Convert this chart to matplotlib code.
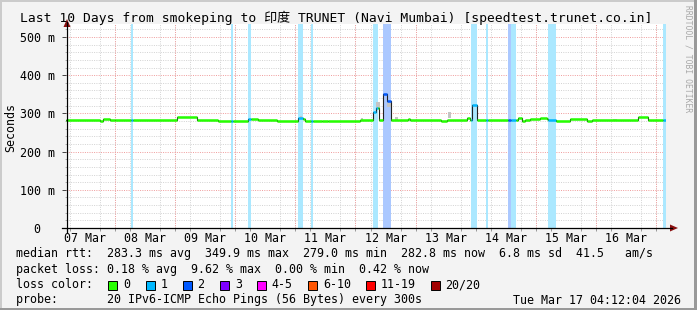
import matplotlib
matplotlib.use('Agg')
import matplotlib.pyplot as plt
import matplotlib.dates as mdates
import matplotlib.ticker as mticker
from matplotlib.patches import Rectangle, Polygon
from matplotlib.lines import Line2D
import numpy as np
import pandas as pd

plt.rcParams['font.family'] = ['DejaVu Sans Mono', 'Noto Sans CJK SC']

# ---------------- data ----------------
title = "Last 10 Days from smokeping to 印度 TRUNET (Navi Mumbai) [speedtest.trunet.co.in]"
t_start = "2026-03-07 04:12:04"
t_end = "2026-03-17 04:12:04"

# median rtt (ms); each value holds until the next time
med_times = ["2026-03-07 04:12:04", "2026-03-07 17:52", "2026-03-07 19:04", "2026-03-07 21:52",
             "2026-03-07 23:52", "2026-03-08 06:16", "2026-03-08 07:04", "2026-03-09 00:38",
             "2026-03-09 08:38", "2026-03-09 17:02", "2026-03-10 04:54", "2026-03-10 09:01",
             "2026-03-10 16:37", "2026-03-11 00:53", "2026-03-11 02:53", "2026-03-11 03:48",
             "2026-03-11 10:36", "2026-03-11 12:59", "2026-03-12 01:47", "2026-03-12 07:06",
             "2026-03-12 08:11", "2026-03-12 09:23", "2026-03-12 11:06", "2026-03-12 12:35",
             "2026-03-12 14:03", "2026-03-12 20:58", "2026-03-12 21:46", "2026-03-13 10:10",
             "2026-03-13 12:33", "2026-03-13 20:33", "2026-03-13 21:45", "2026-03-13 22:33",
             "2026-03-14 00:25", "2026-03-14 16:56", "2026-03-14 18:32", "2026-03-14 19:44",
             "2026-03-14 21:44", "2026-03-15 01:43", "2026-03-15 04:31", "2026-03-15 04:55",
             "2026-03-15 08:07", "2026-03-15 13:43", "2026-03-15 20:31", "2026-03-15 22:31",
             "2026-03-16 16:53", "2026-03-16 20:53"]
med_values = [283, 281, 285, 282,
              284, 282, 283, 289.5,
              284, 281, 285, 284,
              280, 289, 285, 280,
              279, 280, 283, 304,
              313, 283, 350, 333,
              283, 285, 283, 280,
              283, 289, 283, 323,
              283, 287, 280, 284,
              285, 289, 285, 283,
              280, 284.5, 281, 283,
              290, 283]

# packet loss periods (number of lost pings out of 20)
loss_start = ["2026-03-08 06:16", "2026-03-09 22:14", "2026-03-10 04:54", "2026-03-11 00:53",
              "2026-03-11 06:05", "2026-03-12 07:06", "2026-03-12 11:06", "2026-03-13 22:09",
              "2026-03-14 04:01", "2026-03-14 12:49", "2026-03-14 14:08", "2026-03-15 04:55",
              "2026-03-17 02:46"]
loss_end = ["2026-03-08 07:04", "2026-03-09 23:09", "2026-03-10 06:06", "2026-03-11 02:53",
            "2026-03-11 06:53", "2026-03-12 08:52", "2026-03-12 14:03", "2026-03-14 00:25",
            "2026-03-14 04:49", "2026-03-14 14:08", "2026-03-14 16:01", "2026-03-15 08:07",
            "2026-03-17 03:58"]
loss_count = [1, 1, 1, 1, 1, 1, 2, 1, 1, 2, 1, 1, 1]

# smoke (spread of ping rtts, ms)
smoke_start = ["2026-03-11 01:48", "2026-03-12 02:11", "2026-03-12 08:11", "2026-03-12 12:35",
               "2026-03-12 15:46", "2026-03-13 12:57", "2026-03-16 06:54"]
smoke_end = ["2026-03-11 02:36", "2026-03-12 02:59", "2026-03-12 09:47", "2026-03-12 14:27",
             "2026-03-12 16:58", "2026-03-13 14:09", "2026-03-16 08:30"]
smoke_lo = [285, 283, 313, 317, 283, 288, 283]
smoke_hi = [294, 289, 331, 333, 290, 304, 286]

loss_labels = ["0", "1", "2", "3", "4-5", "6-10", "11-19", "20/20"]
loss_colors = ["#26ff00", "#00b8ff", "#0059ff", "#7e00ff", "#ff00ff", "#ff5500", "#ff0000", "#a10000"]
loss_bins = [0, 1, 2, 3, 5, 10, 19, 20]

y_major_ms = [0, 100, 200, 300, 400, 500]
y_top_ms = 534

legend_rtt = "median rtt:  283.3 ms avg  349.9 ms max  279.0 ms min  282.8 ms now  6.8 ms sd  41.5   am/s"
legend_loss = "packet loss: 0.18 % avg  9.62 % max  0.00 % min  0.42 % now"
legend_probe = "probe:       20 IPv6-ICMP Echo Pings (56 Bytes) every 300s"
legend_date = "Tue Mar 17 04:12:04 2026"

# ---------------- figure ----------------
W, H = 697, 310
fig = plt.figure(figsize=(W / 100, H / 100), dpi=100, facecolor='#f3f3f3')

def fx(px):
    return px / W

def fy(py):
    return 1 - py / H

x0, x1, ytop, ybot = 65.8, 666.2, 24, 228
ax = fig.add_axes([fx(x0), fy(ybot), (x1 - x0) / W, (ybot - ytop) / H])
ax.set_facecolor('white')
for s in ax.spines.values():
    s.set_visible(False)
ax.set_axisbelow(True)

tnum = lambda s: mdates.date2num(pd.Timestamp(s))
ts, te = tnum(t_start), tnum(t_end)
ax.set_xlim(ts, te)
ax.set_ylim(0, y_top_ms / 1000)

def loss_color_for(n):
    for lb, c in zip(loss_bins, loss_colors):
        if n <= lb:
            return c
    return loss_colors[-1]

def blend(c, a=0.33):
    r, g, b = matplotlib.colors.to_rgb(c)
    return (r * a + 1 - a, g * a + 1 - a, b * a + 1 - a)

# grid
minor_y = [v / 1000 for v in range(0, y_top_ms + 1, 20) if v % 100 != 0]
ax.yaxis.set_major_locator(mticker.FixedLocator([v / 1000 for v in y_major_ms]))
ax.yaxis.set_minor_locator(mticker.FixedLocator(minor_y))
ax.yaxis.set_major_formatter(mticker.FuncFormatter(
    lambda v, p: "0  " if v == 0 else f"{int(round(v * 1000))} m"))
ax.xaxis.set_major_locator(mdates.HourLocator(byhour=[12]))
ax.xaxis.set_major_formatter(mdates.DateFormatter('%d %b'))
ax.xaxis.set_minor_locator(mdates.HourLocator(byhour=[0, 6, 18]))

dots = (0, (1, 1.3))
ax.grid(True, which='minor', color='#d4d4d4', lw=0.72, ls=dots)
ax.yaxis.grid(True, which='major', color='#f0a0a0', lw=0.72, ls=dots)
for d in pd.date_range("2026-03-08", "2026-03-17", freq="D"):
    ax.axvline(mdates.date2num(d), color='#f0a0a0', lw=0.72, ls=dots, zorder=0.6)

ax.tick_params(axis='both', which='both', labelsize=8.4, colors='black')
ax.tick_params(axis='x', which='major', length=0, pad=3)
ax.tick_params(axis='x', which='minor', length=2, width=0.6, color='#888888', direction='out')
ax.tick_params(axis='y', which='major', length=3, width=0.7, direction='out', pad=5, color='#444444')
ax.tick_params(axis='y', which='minor', length=2, width=0.6, direction='inout', color='#aaaaaa')

# loss stripes
for s, e, n in zip(loss_start, loss_end, loss_count):
    ax.axvspan(tnum(s), tnum(e), color=blend(loss_color_for(n)), lw=0, zorder=1)

# smoke
ss = np.array([tnum(s) for s in smoke_start])
se = np.array([tnum(s) for s in smoke_end])
ax.bar(ss, (np.array(smoke_hi) - np.array(smoke_lo)) / 1000, width=se - ss,
       bottom=np.array(smoke_lo) / 1000, align='edge', color='#c4c4c4', lw=0, zorder=2)

# median line: dark step line + loss coloured segments
mt = [tnum(t) for t in med_times] + [te]
mv = np.array(med_values + [med_values[-1]]) / 1000
ax.step(mt, mv, where='post', color='#222222', lw=0.8, zorder=3)

bounds = sorted(set(mt + [tnum(s) for s in loss_start] + [tnum(e) for e in loss_end] + [ts]))
bounds = [b for b in bounds if ts <= b <= te]
ls_num = [(tnum(s), tnum(e), n) for s, e, n in zip(loss_start, loss_end, loss_count)]
for a, b in zip(bounds[:-1], bounds[1:]):
    mid = (a + b) / 2
    idx = max(i for i in range(len(mt) - 1) if mt[i] <= mid)
    n = 0
    for s, e, k in ls_num:
        if s <= mid < e:
            n = k
    ax.hlines(mv[idx], a, b, colors=loss_color_for(n), lw=1.8, zorder=4)

# axis lines & arrows
axis_col = '#000000'
arrow_col = '#8b1010'
fig.add_artist(Line2D([fx(67), fx(67)], [fy(232), fy(22)], color=axis_col, lw=0.9))
fig.add_artist(Line2D([fx(62), fx(672)], [fy(228), fy(228)], color=axis_col, lw=0.9))
fig.add_artist(Polygon([[fx(63.5), fy(27)], [fx(70.5), fy(27)], [fx(67), fy(19)]],
                       closed=True, color=arrow_col, lw=0))
fig.add_artist(Polygon([[fx(670), fy(224.5)], [fx(670), fy(231.5)], [fx(678), fy(228)]],
                       closed=True, color=arrow_col, lw=0))

# frame
fig.add_artist(Rectangle((0, 0), fx(2), 1, color='#cbcbcb', lw=0))
fig.add_artist(Rectangle((0, fy(2)), 1, 2 / H, color='#cbcbcb', lw=0))
fig.add_artist(Rectangle((fx(694), 0), 3 / W, 1, color='#999999', lw=0))
fig.add_artist(Rectangle((0, 0), 1, 2 / H, color='#999999', lw=0))

# texts
fig.text(fx(20), fy(18), title, fontsize=9.4, ha='left', va='center')
fig.text(fx(10.5), fy(127), "Seconds", fontsize=8.4, rotation=90, ha='center', va='center')
fig.text(fx(688), fy(5), "RRDTOOL / TOBI OETIKER", fontsize=5.8, rotation=270,
         ha='center', va='top', color='#a8a8a8')

fs = 8.4
fig.text(fx(15.6), fy(254), legend_rtt, fontsize=fs, ha='left', va='center')
fig.text(fx(15.6), fy(269.5), legend_loss, fontsize=fs, ha='left', va='center')
fig.text(fx(15.6), fy(285), "loss color:", fontsize=fs, ha='left', va='center')
box_x = [108.4, 145.8, 183.1, 220.4, 256.9, 308.4, 365.8, 431.1]
for bx, lab, c in zip(box_x, loss_labels, loss_colors):
    fig.add_artist(Rectangle((fx(bx), fy(289.5)), 9 / W, 9 / H, facecolor=c,
                             edgecolor='black', lw=0.7))
    fig.text(fx(bx + 14.5), fy(285), lab, fontsize=fs, ha='left', va='center')
fig.text(fx(15.6), fy(300), legend_probe, fontsize=fs, ha='left', va='center')
fig.text(fx(681), fy(300), legend_date, fontsize=fs, ha='right', va='center')

fig.savefig('out.png', dpi=100, facecolor=fig.get_facecolor())
